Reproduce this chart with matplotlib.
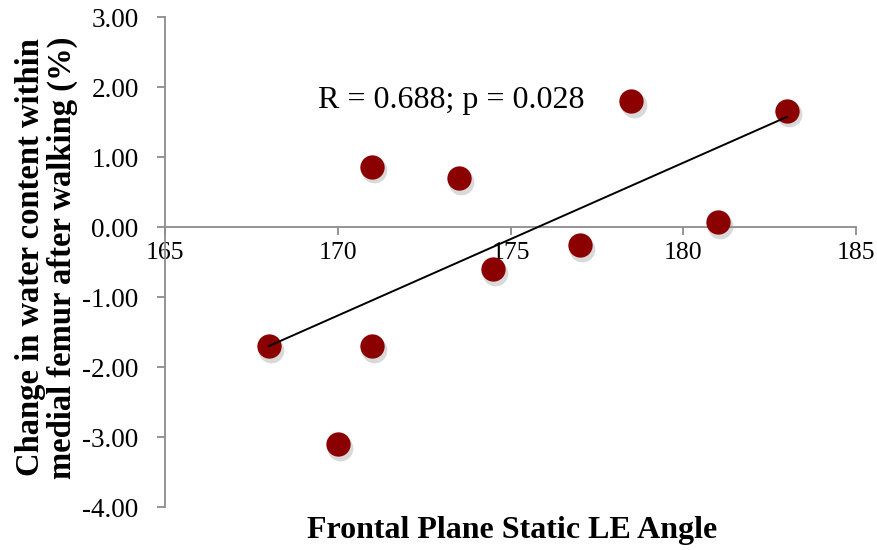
import matplotlib
matplotlib.use("Agg")
import matplotlib.pyplot as plt
import matplotlib.transforms as mtransforms
import numpy as np

# data
angle = [168.0, 170.0, 171.0, 171.0, 173.5, 174.5, 177.0, 178.5, 181.0, 183.0]
water_change = [-1.70, -3.10, 0.86, -1.70, 0.70, -0.60, -0.26, 1.80, 0.07, 1.66]
x_ticks = [165, 170, 175, 180, 185]
y_ticks = [3, 2, 1, 0, -1, -2, -3, -4]
stat_text = "R = 0.688; p = 0.028"

plt.rcParams['font.family'] = ['Liberation Serif', 'DejaVu Serif']

fig = plt.figure(figsize=(8.78, 5.5), dpi=100)
ax = fig.add_axes([0.188, 0.078, 0.787, 0.891])

x = np.array(angle)
y = np.array(water_change)

# linear trendline
slope, intercept = np.polyfit(x, y, 1)
xl = np.array([x.min(), x.max()])
ax.plot(xl, slope * xl + intercept, color='black', lw=1.4, zorder=4)

# soft shadow under the markers
shadow = mtransforms.offset_copy(ax.transData, fig=fig, x=1.5, y=-2.5, units='points')
ax.plot(x, y, 'o', ms=18.5, color='#a0a0a0', alpha=0.4, mec='none',
        transform=shadow, zorder=2)
ax.plot(x, y, 'o', ms=17.5, color='#8b0000', mec='none', zorder=3)

ax.text(169.43, 1.81, stat_text, fontsize=23, ha='left', va='center')

ax.set_xlim(165, 185)
ax.set_ylim(-4, 3)
ax.set_xticks(x_ticks)
ax.set_yticks(y_ticks)
ax.set_yticklabels(['%.2f' % v for v in y_ticks])

for s in ['top', 'right']:
    ax.spines[s].set_visible(False)
ax.spines['bottom'].set_position(('data', 0))
for s in ['bottom', 'left']:
    ax.spines[s].set_color('#8c8c8c')
    ax.spines[s].set_linewidth(1.3)
ax.tick_params(axis='both', direction='out', length=6, width=1.3,
               color='#8c8c8c', labelcolor='black')
ax.tick_params(axis='y', pad=13, labelsize=19.5)
ax.tick_params(axis='x', pad=5, labelsize=18.5)

fig.text(0.5837, 0.036, "Frontal Plane Static LE Angle", fontsize=23,
         fontweight='bold', ha='center', va='center')
fig.text(0.053, 0.532, "Change in water content within\nmedial femur after walking (%)",
         fontsize=23.5, fontweight='bold', rotation=90, ha='center', va='center',
         multialignment='center', linespacing=1.05)

fig.savefig('out.png', dpi=100)
